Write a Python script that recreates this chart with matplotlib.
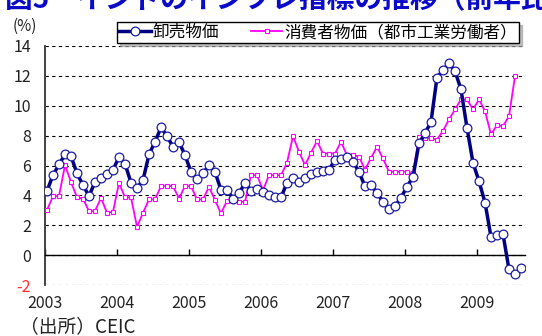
import matplotlib

matplotlib.use("Agg")

import numpy as np

import matplotlib.pyplot as plt

plt.rcParams['font.family'] = ['Noto Sans CJK JP', 'DejaVu Sans']

# monthly y/y change (%), Jan 2003 - Aug 2009
years = ["2003", "2004", "2005", "2006", "2007", "2008", "2009"]

wpi = [4.3, 5.35, 6.07, 6.74, 6.63, 5.47, 4.69, 3.95, 4.9, 5.13, 5.4, 5.69,
       6.58, 6.13, 4.84, 4.5, 5.02, 6.74, 7.58, 8.55, 7.97, 7.25, 7.58, 6.69,
       5.58, 5.07, 5.47, 6.02, 5.58, 4.35, 4.35, 3.79, 4.13, 4.84, 4.3, 4.46,
       4.24, 4.02, 3.86, 3.86, 4.84, 5.13, 4.9, 5.13, 5.4, 5.58, 5.62, 5.69,
       6.4, 6.42, 6.58, 6.25, 5.58, 4.6, 4.69, 4.17, 3.57, 3.12, 3.28, 3.84,
       4.57, 5.24, 7.48, 8.15, 8.92, 11.89, 12.38, 12.83, 12.32, 11.09, 8.52, 6.18,
       4.95, 3.52, 1.22, 1.34, 1.41, -0.96, -1.29, -0.89]

cpi = [3.01, 3.95, 3.95, 6.02, 4.9, 3.86, 3.79, 2.94, 2.94, 3.84, 2.83, 2.9,
       4.84, 3.86, 3.86, 1.9, 2.83, 3.73, 3.73, 4.62, 4.62, 4.62, 3.79, 4.62,
       4.62, 3.73, 3.73, 4.57, 3.68, 2.79, 3.64, 3.64, 3.57, 3.57, 5.35, 5.35,
       4.35, 5.35, 5.35, 5.35, 6.18, 7.97, 6.92, 6.02, 6.85, 7.63, 6.8, 6.8,
       6.8, 7.58, 6.69, 6.69, 6.6, 5.71, 6.51, 7.25, 6.47, 5.58, 5.58, 5.58,
       5.58, 5.47, 7.92, 7.81, 7.81, 7.74, 8.32, 9.08, 9.75, 10.42, 10.42, 9.75,
       10.42, 9.64, 8.08, 8.7, 8.63, 9.3, 11.98, np.nan]

labels = ["卸売物価", "消費者物価（都市工業労働者）"]

months = np.arange(len(wpi))

fig = plt.figure(figsize=(5.42, 3.36), dpi=100)
ax = fig.add_axes([45 / 542, 1 - 285 / 336, 480 / 542, 239 / 336])

ax.plot(months, cpi, color='#ff00ff', lw=1.3, marker='s', ms=3.4,
        mfc='white', mec='#ff00ff', mew=0.8, label=labels[1], zorder=3)
ax.plot(months, wpi, color='#000080', lw=2.5, marker='o', ms=6.3,
        mfc='white', mec='#1c1ca0', mew=0.9, label=labels[0], zorder=4)

ax.set_xlim(-1 / 3, len(wpi) - 1 / 3)
ax.set_ylim(-2, 14)

yt = list(range(-2, 15, 2))
ax.set_yticks(yt, [str(v) for v in yt])
ax.yaxis.grid(True, linestyle=(0, (3, 3)), color='black', lw=0.8)
ax.tick_params(axis='y', length=0, pad=10, labelsize=11.5, labelcolor='#222222')
for t in ax.get_yticklabels():
    if t.get_text().startswith('-'):
        t.set_color('#ff3030')

ax.set_xticks(np.arange(len(years)) * 12 - 1 / 3, years)
ax.tick_params(axis='x', direction='in', length=4, width=1, pad=29,
               labelsize=11.5, labelcolor='#222222')

ax.spines['top'].set_visible(False)
ax.spines['right'].set_visible(False)
ax.spines['left'].set_color('#333333')
ax.spines['left'].set_linewidth(1.3)
ax.spines['bottom'].set_position(('data', 0))
ax.spines['bottom'].set_linewidth(1.0)

h, l = ax.get_legend_handles_labels()
leg = fig.legend(h[::-1], l[::-1], loc='center', bbox_to_anchor=(318 / 542, 1 - 32.5 / 336),
                 ncol=2, fontsize=12, frameon=True, fancybox=False, edgecolor='black',
                 handlelength=1.9, handletextpad=0.1, columnspacing=1.9,
                 borderpad=0.12, borderaxespad=0, numpoints=1,
                 shadow={'color': '#999999', 'alpha': 0.6})
leg.get_frame().set_linewidth(1.0)

fig.text(13 / 542, 1 - 26 / 336, "(%)", ha='left', va='center', fontsize=11, color='#222222')
# title is cut off at the top edge, as in the source image
fig.text(5 / 542, 1 - 7 / 336, "図5　インドのインフレ指標の推移（前年比）",
         ha='left', va='baseline', fontsize=20, weight='bold', color='#0a0ac8')
fig.text(20 / 542, 1 - 332 / 336, "（出所）CEIC", ha='left', va='baseline',
         fontsize=13.5, color='#222222')

plt.savefig("out.png", dpi=100)
plt.close()
